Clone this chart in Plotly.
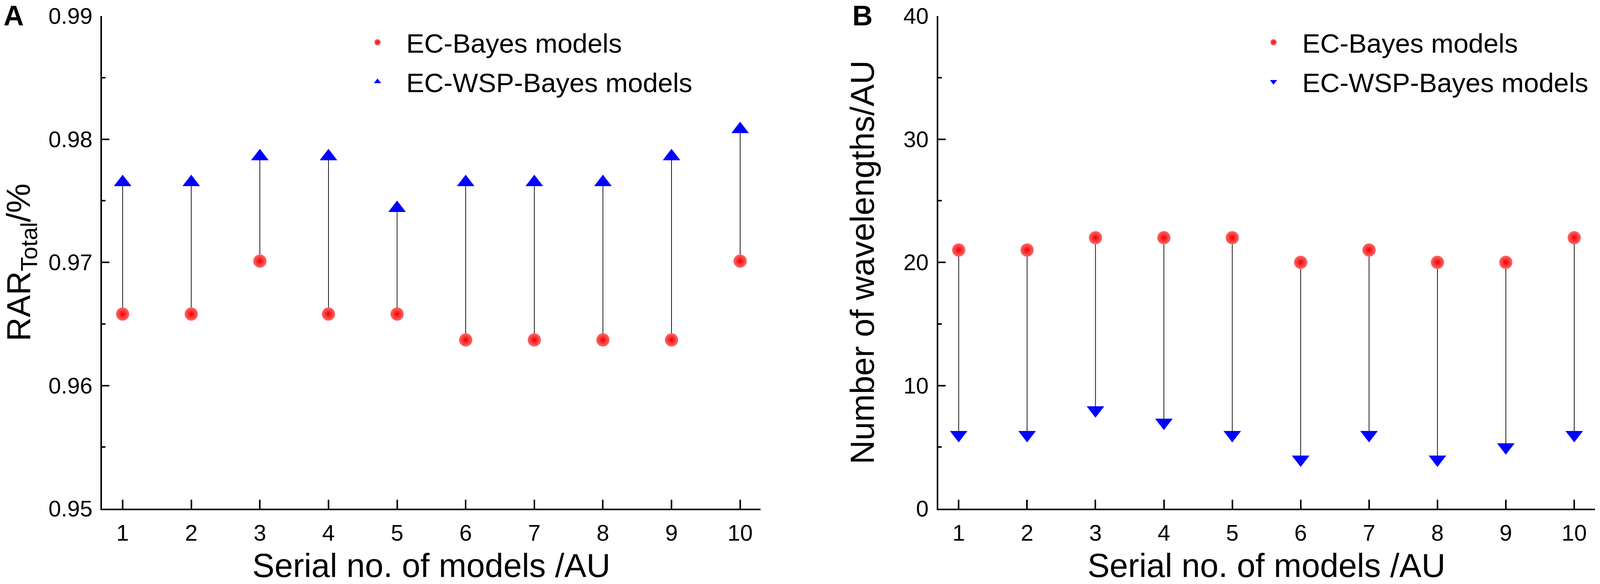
import plotly.graph_objects as go

# ---------------- data ----------------
models = [1, 2, 3, 4, 5, 6, 7, 8, 9, 10]

# Panel A: RAR_Total
rar_ec_bayes = [0.9658, 0.9658, 0.9701, 0.9658, 0.9658, 0.9637, 0.9637, 0.9637, 0.9637, 0.9701]
rar_ec_wsp_bayes = [0.9765, 0.9765, 0.9786, 0.9786, 0.9744, 0.9765, 0.9765, 0.9765, 0.9786, 0.9808]

# Panel B: number of wavelengths
nw_ec_bayes = [21, 21, 22, 22, 22, 20, 21, 20, 20, 22]
nw_ec_wsp_bayes = [6, 6, 8, 7, 6, 4, 6, 4, 5, 6]

series_names = ["EC-Bayes models", "EC-WSP-Bayes models"]
x_ticks = models
yA_ticks = [0.95, 0.96, 0.97, 0.98, 0.99]
yB_ticks = [0, 10, 20, 30, 40]

FONT = "Liberation Sans, Arial, sans-serif"
PLOT_H = 1496 - 41 - 185  # plot-area height in px


def connector(xs, y1, y2):
    cx, cy = [], []
    for x, a, b in zip(xs, y1, y2):
        cx += [x, x, None]
        cy += [a, b, None]
    return cx, cy


fig = go.Figure()

panels = [
    ("x", "y", rar_ec_bayes, rar_ec_wsp_bayes, "triangle-up", "legend", "A"),
    ("x2", "y2", nw_ec_bayes, nw_ec_wsp_bayes, "triangle-down", "legend2", "B"),
]

for xa, ya, circ, tri, tri_sym, leg, tag in panels:
    cx, cy = connector(models, circ, tri)
    fig.add_trace(go.Scatter(x=cx, y=cy, mode="lines", xaxis=xa, yaxis=ya,
                             line=dict(color="black", width=1.8),
                             showlegend=False, hoverinfo="skip"))
    fig.add_trace(go.Scatter(x=models, y=circ, mode="markers", xaxis=xa, yaxis=ya,
                             name=series_names[0], legend=leg, legendgroup=tag + "c",
                             marker=dict(symbol="circle", size=34, color="#ff6a6a",
                                         gradient=dict(type="radial", color="#ee0000"),
                                         line=dict(width=0))))
    fig.add_trace(go.Scatter(x=models, y=tri, mode="markers", xaxis=xa, yaxis=ya,
                             name=series_names[1], legend=leg, legendgroup=tag + "t",
                             marker=dict(symbol=tri_sym, size=39, color="#0000ff",
                                         line=dict(width=0))))

axis_common = dict(
    showline=True, linecolor="black", linewidth=3.8, mirror=False,
    ticks="inside", tickwidth=3.6, tickcolor="black",
    showgrid=False, zeroline=False,
    tickfont=dict(family=FONT, size=58, color="black"),
    title_font=dict(family=FONT, size=85, color="black"),
)

xdomA = [291 / 4562, 2169 / 4562]
xdomB = [2675 / 4562, 4547 / 4562]

legend_common = dict(xanchor="left", yanchor="top", bgcolor="rgba(0,0,0,0)",
                     itemwidth=137, tracegroupgap=8,
                     font=dict(family=FONT, size=69, color="black"))

fig.update_layout(
    paper_bgcolor="white", plot_bgcolor="white",
    margin=dict(l=0, r=0, t=41, b=185),
    font=dict(family=FONT, color="black"),
    xaxis=dict(domain=xdomA, range=[0.7, 10.3], tickvals=x_ticks, anchor="y",
               ticklen=23, ticklabelstandoff=8,
               title=dict(text="Serial no. of models /AU", standoff=40), **axis_common),
    yaxis=dict(domain=[0, 1], range=[0.95, 0.99], tickvals=yA_ticks, tickformat=".2f", anchor="x",
               ticklen=19, ticklabelstandoff=9,
               minor=dict(dtick=0.005, ticks="inside", ticklen=9, tickwidth=3.6, tickcolor="black"),
               title=dict(text="RAR<sub>Total</sub>/%", standoff=62), **axis_common),
    xaxis2=dict(domain=xdomB, range=[0.7, 10.3], tickvals=x_ticks, anchor="y2",
                ticklen=23, ticklabelstandoff=8,
                title=dict(text="Serial no. of models /AU", standoff=40), **axis_common),
    yaxis2=dict(domain=[0, 1], range=[0, 40], tickvals=yB_ticks, anchor="x2",
                ticklen=19, ticklabelstandoff=9,
                minor=dict(dtick=5, ticks="inside", ticklen=9, tickwidth=3.6, tickcolor="black"),
                title=dict(text="Number of wavelengths/AU", standoff=48), **axis_common),
    legend=dict(x=0.218, y=1 - 16 / PLOT_H, **legend_common),
    legend2=dict(x=0.778, y=1 - 16 / PLOT_H, **legend_common),
    annotations=[
        dict(text="<b>A</b>", x=8 / 4562, y=1 + 1 / PLOT_H, xref="paper", yref="paper",
             xanchor="left", yanchor="middle", showarrow=False,
             font=dict(family=FONT, size=72, color="black")),
        dict(text="<b>B</b>", x=2428 / 4562, y=1 + 1 / PLOT_H, xref="paper", yref="paper",
             xanchor="left", yanchor="middle", showarrow=False,
             font=dict(family=FONT, size=72, color="black")),
    ],
)

fig.write_html(
    "out.html",
    default_width="100vw",
    default_height="100vh",
    config={"displayModeBar": False},
    post_script="document.body.style.margin='0';document.body.style.overflow='hidden';",
)
